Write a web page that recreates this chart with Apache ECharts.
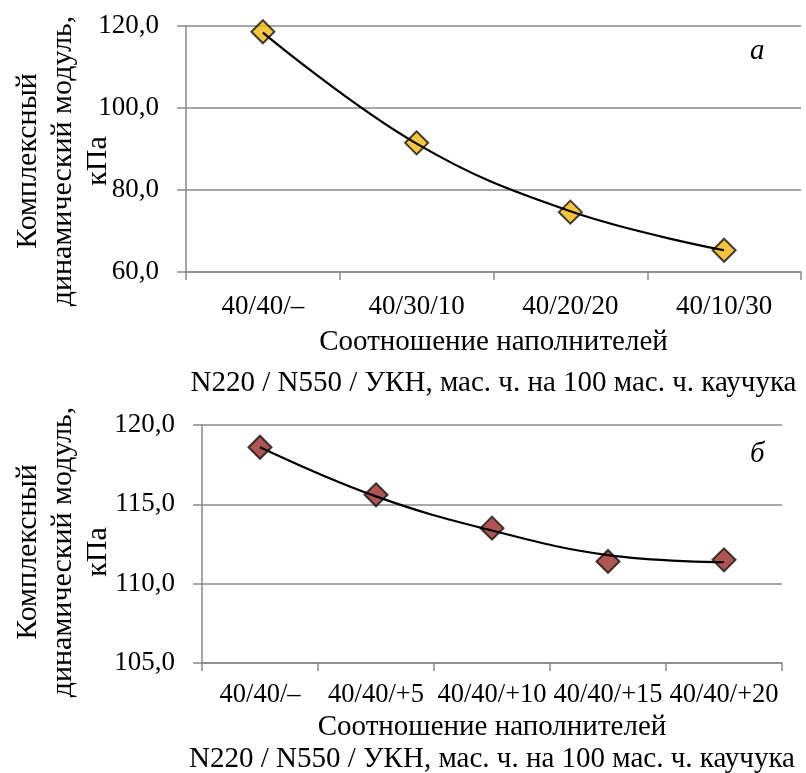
<!DOCTYPE html>
<html>
<head>
<meta charset="utf-8">
<script src="https://cdn.jsdelivr.net/npm/echarts@6/dist/echarts.min.js"></script>
<style>
html,body{margin:0;padding:0;background:#fff;}
#chart{width:806px;height:773px;}
</style>
</head>
<body>
<div id="chart"></div>
<script>
// Chart a
const categoriesA = ['40/40/–', '40/30/10', '40/20/20', '40/10/30'];
const valuesA = [118.6, 91.5, 74.6, 65.3];
const trendA = [118.4, 91.3, 74.8, 65.3];
const yTicksA = [60, 80, 100, 120];

// Chart б
const categoriesB = ['40/40/–', '40/40/+5', '40/40/+10', '40/40/+15', '40/40/+20'];
const valuesB = [118.6, 115.6, 113.5, 111.4, 111.5];
const trendB = [118.6, 115.5, 113.35, 111.8, 111.35];
const yTicksB = [105, 110, 115, 120];

const yTitle = 'Комплексный\nдинамический модуль,\nкПа';
const xTitle = 'Соотношение наполнителей\nN220 / N550 / УКН, мас. ч. на 100 мас. ч. каучука';

const FONT = '"Liberation Serif", "Times New Roman", serif';
const GRAY = '#8a8a8a';

const fmt = v => v.toFixed(1).replace('.', ',');

function xAxisCfg(gridIndex, cats, margin, nameGap, lh, fs) {
  return {
    type: 'category', gridIndex: gridIndex, data: cats, boundaryGap: true,
    axisLine: { show: true, lineStyle: { color: GRAY, width: 1.5 } },
    axisTick: { show: true, length: 8, interval: 0, lineStyle: { color: GRAY, width: 1.5 } },
    axisLabel: { interval: 0, margin: margin, color: '#000', fontFamily: FONT, fontSize: fs, hideOverlap: false },
    splitLine: { show: false },
    name: xTitle, nameLocation: 'middle', nameGap: nameGap, nameMoveOverlap: false,
    nameTextStyle: { color: '#000', fontFamily: FONT, fontSize: 29, lineHeight: lh, verticalAlign: 'top' }
  };
}
function yAxisCfg(gridIndex, ticks, nameGap, shiftPad) {
  return {
    type: 'value', gridIndex: gridIndex,
    min: ticks[0], max: ticks[ticks.length - 1], interval: ticks[1] - ticks[0],
    axisLine: { show: true, lineStyle: { color: GRAY, width: 1.5 } },
    axisTick: { show: true, length: 9, lineStyle: { color: GRAY, width: 1.5 } },
    axisLabel: { margin: 27, color: '#000', fontFamily: FONT, fontSize: 27, formatter: fmt },
    splitLine: { show: true, lineStyle: { color: GRAY, width: 1.5 } },
    name: yTitle, nameLocation: 'middle', nameGap: nameGap, nameRotate: 90, nameMoveOverlap: false,
    nameTextStyle: { color: '#000', fontFamily: FONT, fontSize: 30, lineHeight: 35, padding: shiftPad }
  };
}

const chart = echarts.init(document.getElementById('chart'), null, { renderer: 'canvas' });
chart.setOption({
  animation: false,
  backgroundColor: '#fff',
  grid: [
    { left: 186, right: 5, top: 26, height: 246, containLabel: false, outerBoundsMode: 'none' },
    { left: 202, right: 24, top: 425, height: 238, containLabel: false, outerBoundsMode: 'none' }
  ],
  xAxis: [
    xAxisCfg(0, categoriesA, 21, 50, 41, 27),
    xAxisCfg(1, categoriesB, 19, 48, 32, 26.5)
  ],
  yAxis: [
    yAxisCfg(0, yTicksA, 70, [0, 24, 0, 0]),
    yAxisCfg(1, yTicksB, 86, [0, 16, 0, 0])
  ],
  series: [
    { type: 'scatter', xAxisIndex: 0, yAxisIndex: 0, data: valuesA, symbol: 'diamond', symbolSize: 23,
      itemStyle: { color: '#F4B60E', borderColor: '#111', borderWidth: 2 }, z: 2 },
    { type: 'line', xAxisIndex: 0, yAxisIndex: 0, data: trendA, smooth: 0.4, showSymbol: false, symbol: 'none',
      lineStyle: { color: '#000', width: 2.2 }, z: 3 },
    { type: 'scatter', xAxisIndex: 1, yAxisIndex: 1, data: valuesB, symbol: 'diamond', symbolSize: 23,
      itemStyle: { color: '#9C2B29', borderColor: '#111', borderWidth: 2 }, z: 2 },
    { type: 'line', xAxisIndex: 1, yAxisIndex: 1, data: trendB, smooth: 0.4, showSymbol: false, symbol: 'none',
      lineStyle: { color: '#000', width: 2.2 }, z: 3 }
  ],
  graphic: [
    { type: 'text', left: 750, top: 37, style: { text: 'а', font: 'italic 29px ' + FONT, fill: '#000' } },
    { type: 'text', left: 750, top: 440, style: { text: 'б', font: 'italic 29px ' + FONT, fill: '#000' } }
  ]
});
</script>
</body>
</html>
